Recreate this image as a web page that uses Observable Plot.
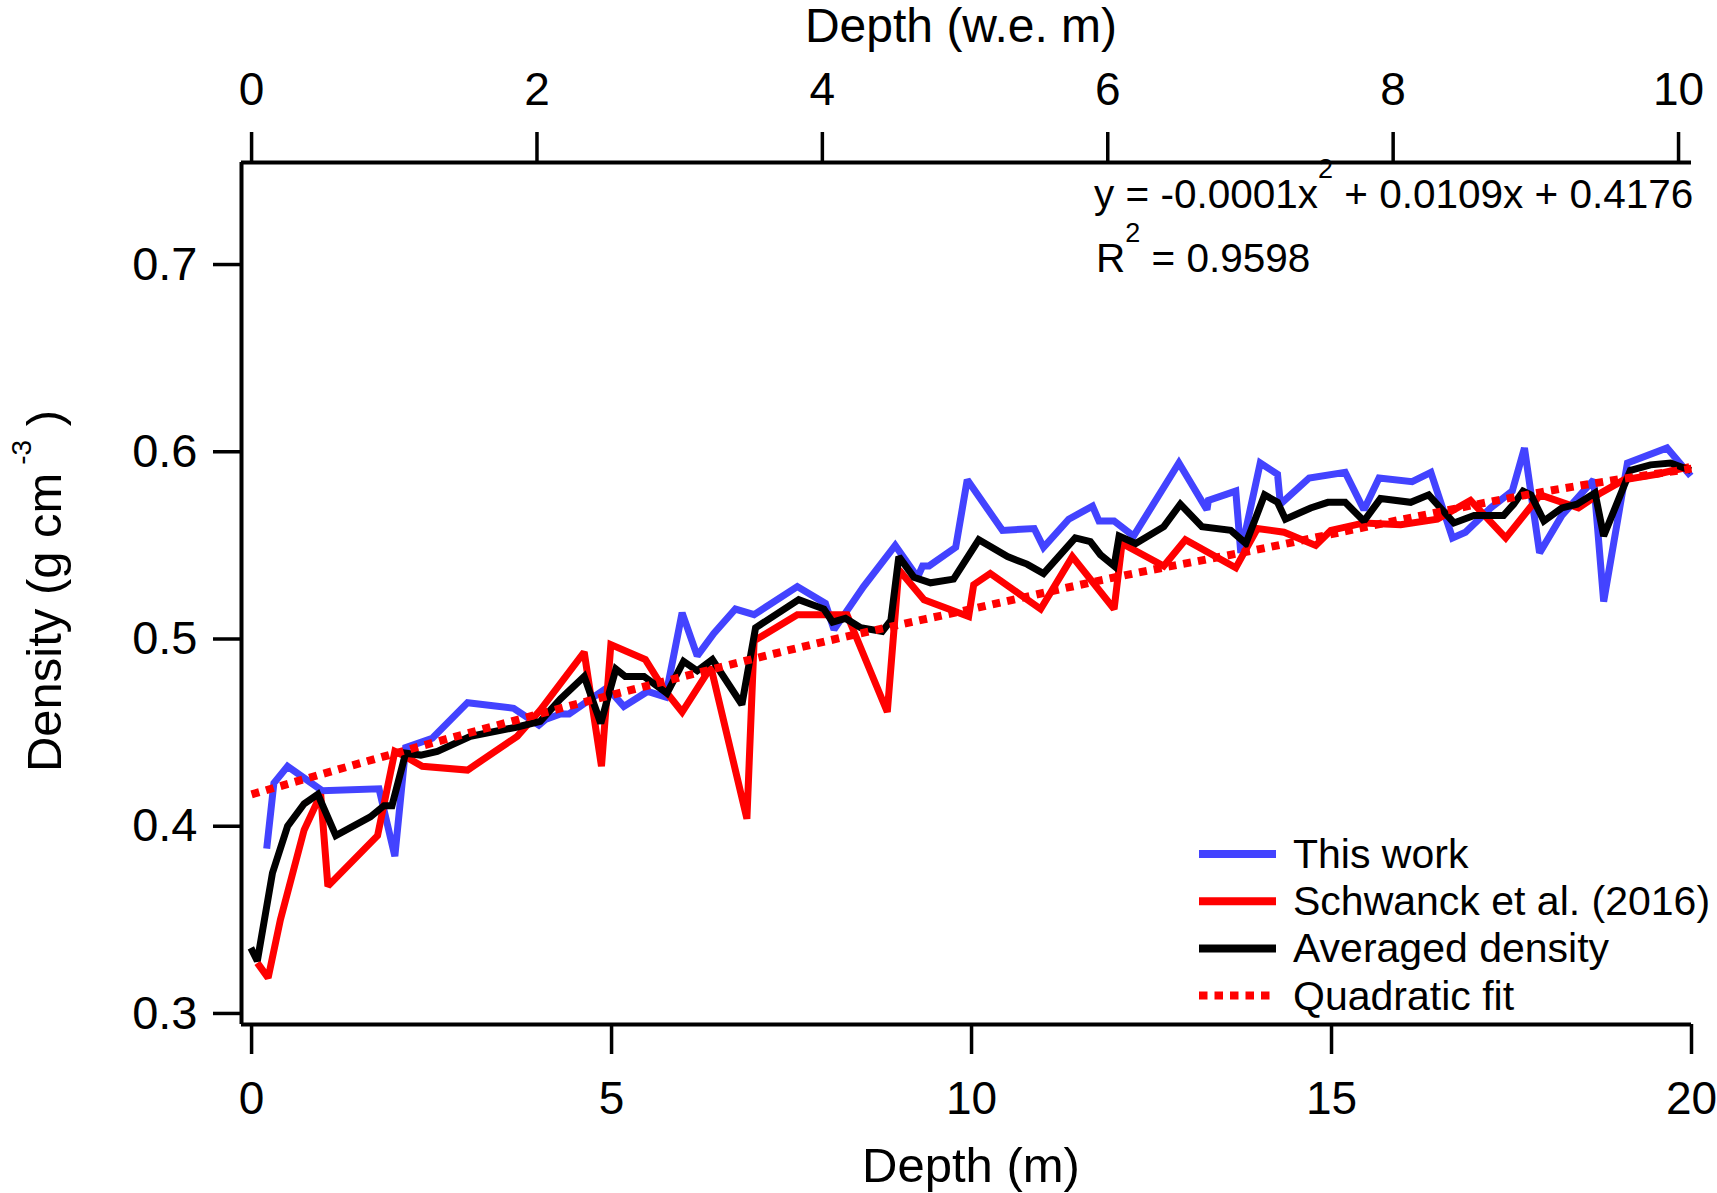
<!DOCTYPE html>
<html>
<head>
<meta charset="utf-8">
<script src="https://cdn.jsdelivr.net/npm/d3@7"></script>
<script src="https://cdn.jsdelivr.net/npm/@observablehq/plot@0.6"></script>
<style>
  body { margin: 0; background: #fff; }
  #chart svg { display: block; }
</style>
</head>
<body>
<div id="chart"></div>
<script>
// values
const thisDepth = [0.21, 0.31, 0.50, 0.98, 1.77, 1.99, 2.14, 2.51, 3.00, 3.64, 3.99, 4.08, 4.29, 4.41, 4.94, 5.17, 5.50, 5.75, 5.98, 6.19, 6.42, 6.72, 6.98, 7.58, 7.97, 8.09, 8.50, 8.94, 9.25, 9.32, 9.41, 9.78, 9.94, 10.43, 10.87, 11.00, 11.35, 11.68, 11.77, 11.98, 12.25, 12.88, 13.27, 13.29, 13.67, 13.74, 14.01, 14.25, 14.29, 14.69, 15.19, 15.45, 15.66, 16.12, 16.38, 16.68, 16.86, 17.21, 17.51, 17.68, 17.89, 18.20, 18.64, 18.78, 19.11, 19.66, 19.99];
const thisDensity = [0.388, 0.423, 0.432, 0.419, 0.420, 0.384, 0.442, 0.447, 0.466, 0.463, 0.454, 0.457, 0.460, 0.460, 0.474, 0.464, 0.472, 0.469, 0.514, 0.491, 0.503, 0.516, 0.513, 0.528, 0.519, 0.505, 0.528, 0.550, 0.533, 0.539, 0.539, 0.549, 0.585, 0.558, 0.559, 0.549, 0.564, 0.571, 0.563, 0.563, 0.555, 0.594, 0.569, 0.574, 0.579, 0.546, 0.594, 0.588, 0.572, 0.586, 0.589, 0.569, 0.586, 0.584, 0.589, 0.554, 0.557, 0.570, 0.579, 0.602, 0.546, 0.566, 0.585, 0.520, 0.594, 0.602, 0.587];

const schwanckDepth = [0.08, 0.23, 0.40, 0.73, 0.96, 1.06, 1.75, 1.99, 2.10, 2.37, 3.00, 3.69, 4.01, 4.62, 4.86, 4.99, 5.47, 5.73, 5.98, 6.38, 6.88, 6.98, 7.58, 8.00, 8.27, 8.83, 8.99, 9.34, 9.96, 10.03, 10.26, 10.96, 11.40, 11.98, 12.09, 12.67, 12.97, 13.67, 13.97, 14.34, 14.78, 14.99, 15.45, 15.96, 16.47, 16.93, 17.42, 17.90, 18.43, 18.74, 19.06, 19.52, 19.97];
const schwanckDensity = [0.327, 0.319, 0.350, 0.398, 0.417, 0.368, 0.395, 0.440, 0.438, 0.432, 0.430, 0.448, 0.462, 0.493, 0.432, 0.497, 0.489, 0.473, 0.461, 0.485, 0.404, 0.499, 0.513, 0.513, 0.513, 0.461, 0.537, 0.521, 0.512, 0.529, 0.535, 0.516, 0.544, 0.516, 0.551, 0.539, 0.553, 0.538, 0.559, 0.557, 0.550, 0.558, 0.562, 0.561, 0.564, 0.574, 0.554, 0.577, 0.570, 0.578, 0.585, 0.588, 0.592];

const avgDepth = [-0.01, 0.08, 0.29, 0.50, 0.73, 0.92, 1.17, 1.65, 1.84, 1.95, 2.14, 2.35, 2.58, 3.04, 3.69, 4.01, 4.29, 4.62, 4.85, 5.06, 5.19, 5.45, 5.77, 6.00, 6.19, 6.40, 6.81, 7.00, 7.60, 7.95, 8.07, 8.25, 8.46, 8.76, 8.88, 8.99, 9.20, 9.43, 9.75, 10.10, 10.50, 10.77, 11.00, 11.44, 11.65, 11.79, 11.98, 12.05, 12.28, 12.67, 12.90, 13.20, 13.60, 13.81, 14.07, 14.25, 14.36, 14.71, 14.95, 15.19, 15.45, 15.68, 16.10, 16.35, 16.70, 16.98, 17.39, 17.53, 17.66, 17.77, 17.95, 18.20, 18.41, 18.66, 18.78, 19.15, 19.43, 19.71, 19.99];
const avgDensity = [0.335, 0.328, 0.375, 0.400, 0.412, 0.417, 0.395, 0.405, 0.411, 0.411, 0.439, 0.438, 0.440, 0.448, 0.453, 0.456, 0.468, 0.480, 0.455, 0.484, 0.480, 0.480, 0.471, 0.488, 0.483, 0.489, 0.465, 0.506, 0.521, 0.516, 0.509, 0.511, 0.506, 0.504, 0.510, 0.544, 0.533, 0.530, 0.532, 0.553, 0.544, 0.540, 0.535, 0.554, 0.552, 0.545, 0.539, 0.555, 0.551, 0.560, 0.572, 0.560, 0.558, 0.551, 0.577, 0.573, 0.564, 0.570, 0.573, 0.573, 0.563, 0.575, 0.573, 0.577, 0.562, 0.566, 0.566, 0.572, 0.579, 0.577, 0.563, 0.570, 0.572, 0.578, 0.555, 0.590, 0.593, 0.594, 0.590];

const fitDepth = [0, 2, 4, 6, 8, 10, 12, 14, 16, 18, 20];
const fitDensity = [0.417, 0.439, 0.460, 0.480, 0.499, 0.516, 0.533, 0.548, 0.564, 0.579, 0.591];

const xTicks = [0, 5, 10, 15, 20];
const yTicks = [0.3, 0.4, 0.5, 0.6, 0.7];
const weTicks = [0, 2, 4, 6, 8, 10];

const seriesNames = ["This work", "Schwanck et al. (2016)", "Averaged density", "Quadratic fit"];
const equationParts = ["y = -0.0001x", "2", " + 0.0109x + 0.4176"];
const r2Parts = ["R", "2", " = 0.9598"];

// w.e. depth → m depth
const WE_RATIO = 1.982;

const BLUE = "#4343ff";
const RED = "#ff0000";
const FONT = "Liberation Sans, Arial, Helvetica, sans-serif";

const W = 1717, H = 1193;
const X0 = -0.14, X1 = 20, Y0 = 0.2941, Y1 = 0.7545;

const rows = (xs, ys) => xs.map((d, i) => ({depth: d, density: ys[i]}));

const lineStyle = {x: "depth", y: "density", strokeWidth: 7, strokeLinejoin: "miter", strokeMiterlimit: 2, strokeLinecap: "butt"};

const chart = Plot.plot({
  width: W,
  height: H,
  marginLeft: 241,
  marginRight: 26,
  marginTop: 162,
  marginBottom: 169,
  style: {fontFamily: FONT, background: "white", color: "black"},
  x: {domain: [X0, X1]},
  y: {domain: [Y0, Y1]},
  marks: [
    Plot.axisY(yTicks, {tickSize: 28, tickPadding: 16, fontSize: 47, strokeWidth: 3.5, tickFormat: d3.format(".1f"), label: null}),
    Plot.axisX(xTicks, {anchor: "bottom", tickSize: 30, tickPadding: 27, fontSize: 46, strokeWidth: 3.5, label: null}),
    Plot.axisX(weTicks.map((v) => v * WE_RATIO), {anchor: "top", tickSize: 31, tickPadding: 27, fontSize: 46, strokeWidth: 3.5, tickFormat: (d) => String(Math.round(d / WE_RATIO)), label: null}),
    Plot.ruleX([X0], {strokeWidth: 4}),
    Plot.ruleY([Y0], {strokeWidth: 4}),
    Plot.ruleY([Y1], {strokeWidth: 4}),
    Plot.line(rows(thisDepth, thisDensity), {...lineStyle, stroke: BLUE}),
    Plot.line(rows(schwanckDepth, schwanckDensity), {...lineStyle, stroke: RED}),
    Plot.line(rows(avgDepth, avgDensity), {...lineStyle, stroke: "black"}),
    Plot.line(rows(fitDepth, fitDensity), {x: "depth", y: "density", stroke: RED, strokeWidth: 8, strokeDasharray: "8,7", strokeLinecap: "butt", curve: "monotone-x"})
  ]
});

document.getElementById("chart").appendChild(chart);

const svg = d3.select(chart);

// axis titles
svg.append("text")
  .attr("x", 971).attr("y", 1182)
  .attr("text-anchor", "middle")
  .attr("font-family", FONT).attr("font-size", 49)
  .text("Depth (m)");

svg.append("text")
  .attr("x", 961).attr("y", 42)
  .attr("text-anchor", "middle")
  .attr("font-family", FONT).attr("font-size", 48)
  .text("Depth (w.e. m)");

const yTitle = svg.append("text")
  .attr("transform", "translate(61,591) rotate(-90)")
  .attr("text-anchor", "middle")
  .attr("font-family", FONT).attr("font-size", 49)
  .style("white-space", "pre");
yTitle.append("tspan").text("Density (g cm");
yTitle.append("tspan").attr("font-size", 28).attr("dy", -30).text(" -3");
yTitle.append("tspan").attr("dy", 30).text(" )");

// fit equation
function superText(x, y, parts) {
  const t = svg.append("text")
    .attr("x", x).attr("y", y)
    .attr("text-anchor", "start")
    .attr("font-family", FONT).attr("font-size", 40.5)
    .style("white-space", "pre");
  t.append("tspan").text(parts[0]);
  t.append("tspan").attr("font-size", 27).attr("dy", -30).text(parts[1]);
  t.append("tspan").attr("dy", 30).text(parts[2]);
}
superText(1094, 208, equationParts);
superText(1096, 272, r2Parts);

// legend
const legendColors = [BLUE, RED, "black", RED];
const legend = svg.append("g");
seriesNames.forEach((name, i) => {
  const y = 854 + i * 47.2;
  legend.append("line")
    .attr("x1", 1199).attr("x2", 1276)
    .attr("y1", y).attr("y2", y)
    .attr("stroke", legendColors[i])
    .attr("stroke-width", 8)
    .attr("stroke-dasharray", i === 3 ? "8.5,7" : null);
  legend.append("text")
    .attr("x", 1293).attr("y", y + 14)
    .attr("text-anchor", "start")
    .attr("font-family", FONT).attr("font-size", 41)
    .text(name);
});
</script>
</body>
</html>
